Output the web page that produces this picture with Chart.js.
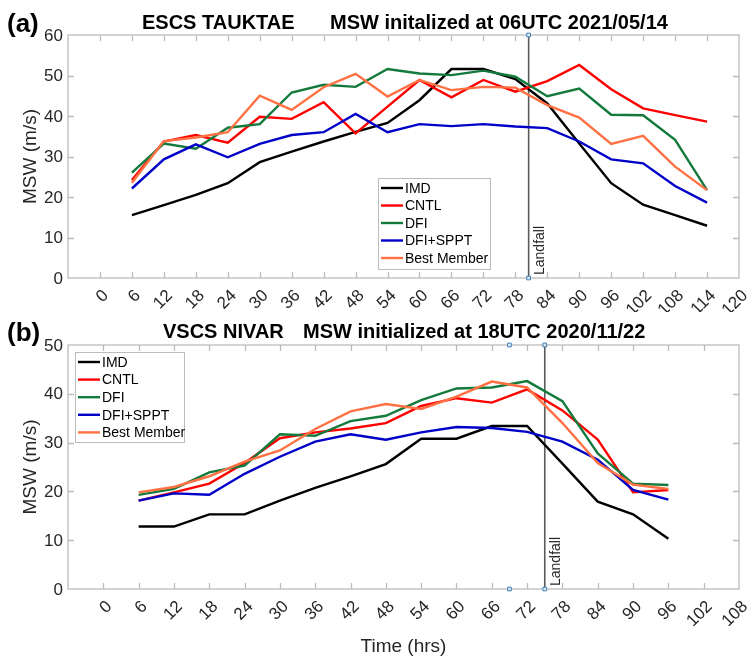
<!DOCTYPE html>
<html>
<head>
<meta charset="utf-8">
<script src="https://cdn.jsdelivr.net/npm/chart.js@4.4.1/dist/chart.umd.min.js"></script>
<style>
  body { margin: 0; background: #fff; }
  #wrap { position: relative; width: 752px; height: 657px; }
  canvas { position: absolute; left: 0; }
  #chartA { top: 0; }
  #chartB { top: 312px; }
</style>
</head>
<body>
<div id="wrap">
  <canvas id="chartA" width="752" height="312"></canvas>
  <canvas id="chartB" width="752" height="345"></canvas>
</div>
<script>
// forecast hours (lead time)
const hoursA = [6, 12, 18, 24, 30, 36, 42, 48, 54, 60, 66, 72, 78, 84, 90, 96, 102, 108, 114];
const hoursB = [6, 12, 18, 24, 30, 36, 42, 48, 54, 60, 66, 72, 78, 84, 90, 96];

// (a) ESCS TAUKTAE - MSW in m/s
const imdA  = [15.5, 18.0, 20.5, 23.4, 28.6, 31.2, 33.7, 36.1, 38.3, 43.9, 51.6, 51.6, 49.1, 43.1, 33.2, 23.4, 18.1, 15.5, 12.9];
const cntlA = [24.2, 33.7, 35.3, 33.4, 39.8, 39.3, 43.4, 35.7, 42.3, 48.9, 44.6, 48.9, 46.0, 48.6, 52.6, 46.6, 41.9, 40.2, 38.6];
const dfiA  = [26.0, 33.2, 31.9, 37.1, 38.0, 45.8, 47.7, 47.2, 51.6, 50.5, 50.1, 51.2, 49.7, 44.9, 46.8, 40.3, 40.2, 34.1, 21.7];
const spptA = [22.1, 29.3, 33.0, 29.8, 33.1, 35.3, 36.0, 40.5, 36.0, 38.0, 37.5, 38.0, 37.4, 37.0, 33.7, 29.3, 28.3, 22.7, 18.6];
const bestA = [23.5, 33.8, 34.7, 36.0, 45.0, 41.5, 47.1, 50.4, 44.8, 48.9, 46.4, 47.2, 47.0, 42.7, 39.6, 33.1, 35.1, 27.5, 21.7];

// (b) VSCS NIVAR - MSW in m/s
const imdB  = [12.8, 12.8, 15.3, 15.3, 18.1, 20.7, 23.1, 25.6, 30.8, 30.8, 33.4, 33.4, 25.7, 17.9, 15.3, 10.3];
const cntlB = [18.1, 19.8, 21.6, 25.8, 30.9, 32.1, 32.9, 34.0, 37.5, 39.1, 38.2, 40.9, 36.6, 30.6, 19.8, 20.3];
const dfiB  = [19.3, 20.5, 23.9, 25.3, 31.7, 31.4, 34.4, 35.5, 38.7, 41.1, 41.3, 42.6, 38.5, 27.8, 21.6, 21.3];
const spptB = [18.1, 19.6, 19.3, 23.6, 27.1, 30.2, 31.7, 30.6, 32.1, 33.2, 33.0, 32.2, 30.2, 26.5, 20.3, 18.3];
const bestB = [19.8, 20.9, 23.1, 26.1, 28.4, 32.8, 36.4, 37.9, 36.9, 39.4, 42.5, 41.3, 34.0, 25.8, 21.4, 20.5];

const seriesNames = ['IMD', 'CNTL', 'DFI', 'DFI+SPPT', 'Best Member'];
const seriesColors = ['#000000', '#ff0000', '#137a3c', '#0000c8', '#ff7043'];

const landfallA = 80.5;
const landfallB = 75;
const markerB = 69;   // extra selection handle in (b)

const FONT = "'Liberation Sans', Arial, sans-serif";

function toPoints(hours, vals) {
  return hours.map((h, i) => ({ x: h, y: vals[i] }));
}

function buildDatasets(hours, lists, landfall, yMax, extraX) {
  const sets = lists.map((vals, i) => ({
    label: seriesNames[i],
    data: toPoints(hours, vals),
    borderColor: seriesColors[i],
    backgroundColor: seriesColors[i],
    borderWidth: 2.4,
    pointRadius: 0,
    tension: 0,
    order: lists.length - i
  }));
  // landfall vertical line with the little handle squares
  sets.push({
    label: 'landfall',
    data: [{ x: landfall, y: 0 }, { x: landfall, y: yMax }],
    borderColor: '#5a5a5a',
    borderWidth: 1.6,
    pointStyle: 'rect',
    pointRadius: 2.6,
    pointBorderWidth: 1,
    pointBorderColor: '#3f7fb8',
    pointBackgroundColor: '#dfeaf5',
    clip: false,
    order: 10
  });
  if (extraX != null) {
    sets.push({
      label: 'handle',
      data: [{ x: extraX, y: 0 }, { x: extraX, y: yMax }],
      showLine: false,
      pointStyle: 'rect',
      pointRadius: 2.6,
      pointBorderWidth: 1,
      pointBorderColor: '#3f7fb8',
      pointBackgroundColor: '#dfeaf5',
      clip: false,
      order: 11
    });
  }
  return sets;
}

// draws the MATLAB style box, inward ticks, labels, titles and legend
const framePlugin = {
  id: 'frame',
  beforeDatasetsDraw(chart, args, o) {
    const { ctx, chartArea: a, scales: { x, y } } = chart;
    ctx.save();
    ctx.strokeStyle = '#bcbcbc';
    ctx.lineWidth = 1.3;
    ctx.strokeRect(a.left, a.top, a.right - a.left, a.bottom - a.top);
    ctx.beginPath();
    for (let v = 0; v < o.xMax; v += 6) {
      const px = Math.round(x.getPixelForValue(v)) + 0.5;
      ctx.moveTo(px, a.bottom); ctx.lineTo(px, a.bottom - 6);
      ctx.moveTo(px, a.top); ctx.lineTo(px, a.top + 6);
    }
    for (let v = 10; v < o.yMax; v += 10) {
      const py = Math.round(y.getPixelForValue(v)) + 0.5;
      ctx.moveTo(a.left, py); ctx.lineTo(a.left + 6, py);
      ctx.moveTo(a.right, py); ctx.lineTo(a.right - 6, py);
    }
    ctx.stroke();

    // tick labels
    ctx.fillStyle = '#262626';
    ctx.font = '17px ' + FONT;
    ctx.textAlign = 'right';
    ctx.textBaseline = 'middle';
    for (let v = 0; v <= o.yMax; v += 10) {
      ctx.fillText(String(v), a.left - 5, y.getPixelForValue(v) + 1);
    }
    for (let v = 0; v <= o.xMax; v += 6) {
      ctx.save();
      ctx.translate(x.getPixelForValue(v) + 6, a.bottom + 15);
      ctx.rotate(-Math.PI / 4);
      ctx.fillText(String(v), 0, 0);
      ctx.restore();
    }

    // y axis title
    ctx.save();
    ctx.translate(31, (a.top + a.bottom) / 2);
    ctx.rotate(-Math.PI / 2);
    ctx.textAlign = 'center';
    ctx.font = '19px ' + FONT;
    ctx.fillText('MSW (m/s)', 0, 0);
    ctx.restore();

    if (o.xTitle) {
      ctx.textAlign = 'center';
      ctx.font = '19px ' + FONT;
      ctx.fillText(o.xTitle, (a.left + a.right) / 2, o.xTitleY);
    }
    ctx.restore();
  },
  afterDatasetsDraw(chart, args, o) {
    const { ctx, chartArea: a, scales: { x } } = chart;
    ctx.save();
    // landfall label
    ctx.save();
    ctx.translate(x.getPixelForValue(o.landfall) + 11, a.bottom - 3);
    ctx.rotate(-Math.PI / 2);
    ctx.fillStyle = '#262626';
    ctx.font = '14px ' + FONT;
    ctx.textAlign = 'left';
    ctx.textBaseline = 'middle';
    ctx.fillText('Landfall', 0, 0);
    ctx.restore();

    // titles
    ctx.fillStyle = '#000';
    ctx.textBaseline = 'middle';
    ctx.textAlign = 'left';
    ctx.font = 'bold 20px ' + FONT;
    ctx.fillText(o.title1, o.title1X, o.titleY);
    ctx.fillText(o.title2, o.title2X, o.titleY);
    ctx.font = 'bold 26px ' + FONT;
    ctx.fillText(o.panel, 7, o.panelY);

    // legend
    const L = o.legend;
    ctx.fillStyle = '#fff';
    ctx.fillRect(L.x, L.y, L.w, L.h);
    ctx.strokeStyle = '#bcbcbc';
    ctx.lineWidth = 1;
    ctx.strokeRect(L.x + 0.5, L.y + 0.5, L.w, L.h);
    ctx.font = '14px ' + FONT;
    seriesNames.forEach((name, i) => {
      const cy = L.y + L.first + i * L.step;
      ctx.strokeStyle = seriesColors[i];
      ctx.lineWidth = 2.4;
      ctx.beginPath();
      ctx.moveTo(L.x + 3, cy);
      ctx.lineTo(L.x + 25, cy);
      ctx.stroke();
      ctx.fillStyle = '#000';
      ctx.fillText(name, L.x + 27, cy + 1);
    });
    ctx.restore();
  }
};

function makeChart(id, datasets, xMax, yMax, padding, frame) {
  return new Chart(document.getElementById(id), {
    type: 'line',
    data: { datasets: datasets },
    options: {
      responsive: false,
      animation: false,
      devicePixelRatio: 1,
      layout: { padding: padding },
      scales: {
        x: { type: 'linear', min: -6, max: xMax, display: false },
        y: { type: 'linear', min: 0, max: yMax, display: false }
      },
      plugins: {
        legend: { display: false },
        tooltip: { enabled: false },
        frame: Object.assign({ xMax: xMax, yMax: yMax }, frame)
      }
    },
    plugins: [framePlugin]
  });
}

makeChart('chartA',
  buildDatasets(hoursA, [imdA, cntlA, dfiA, spptA, bestA], landfallA, 60, null),
  120, 60,
  { left: 68, top: 35, right: 13, bottom: 34 },
  {
    title1: 'ESCS TAUKTAE', title1X: 142,
    title2: 'MSW initalized at 06UTC 2021/05/14', title2X: 330,
    titleY: 23, panel: '(a)', panelY: 25,
    landfall: landfallA,
    legend: { x: 378, y: 178, w: 112, h: 91, first: 10, step: 17.5 }
  });

makeChart('chartB',
  buildDatasets(hoursB, [imdB, cntlB, dfiB, spptB, bestB], landfallB, 50, markerB),
  108, 50,
  { left: 68, top: 33, right: 13, bottom: 68 },
  {
    title1: 'VSCS NIVAR', title1X: 163,
    title2: 'MSW initialized at 18UTC 2020/11/22', title2X: 303,
    titleY: 20, panel: '(b)', panelY: 22,
    landfall: landfallB,
    xTitle: 'Time (hrs)', xTitleY: 335,
    legend: { x: 75, y: 40, w: 109, h: 90, first: 10, step: 17.6 }
  });
</script>
</body>
</html>
